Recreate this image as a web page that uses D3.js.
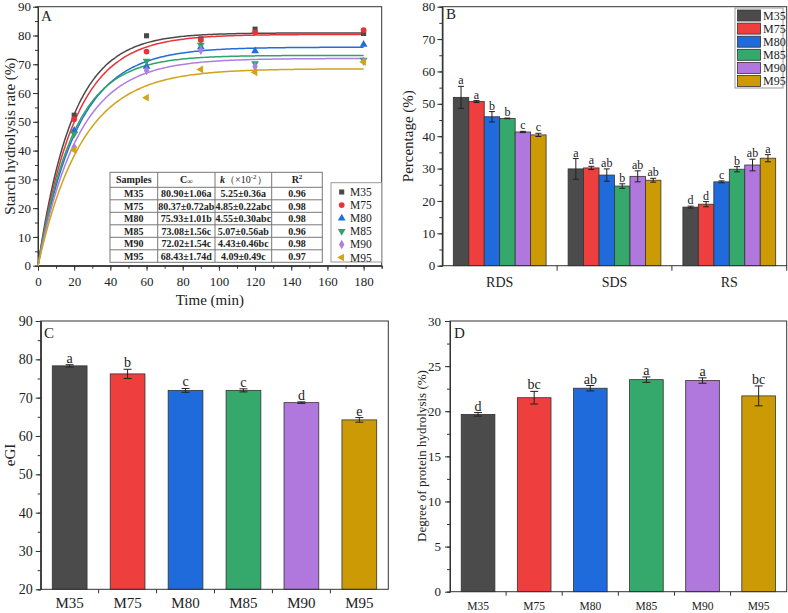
<!DOCTYPE html>
<html>
<head>
<meta charset="utf-8">
<script src="https://cdn.jsdelivr.net/npm/d3@7"></script>
<style>
  body { margin: 0; background: #fff; }
  text { font-family: "Liberation Serif", "Times New Roman", serif; fill: #222; }
</style>
</head>
<body>
<svg id="chart" width="788" height="613"></svg>
<script>
// ---- data ----
const samples = ['M35', 'M75', 'M80', 'M85', 'M90', 'M95'];
const barColors = ['#4b4b4b', '#ef3e3e', '#1f6bdb', '#34a96b', '#b077dc', '#cc9a05'];
const lineColors = ['#4a4a4a', '#e8333b', '#1f6fd6', '#2fa36a', '#b07ee0', '#d2a318'];

// A: starch hydrolysis (%) vs time (min)
const timePoints = [0, 20, 60, 90, 120, 180];
const hydM35 = [0, 52.3, 79.9, 78.8, 82.2, 80.7];
const hydM75 = [0, 50.9, 74.4, 78.4, 81.1, 81.9];
const hydM80 = [0, 47.0, 69.2, 76.0, 74.6, 76.9];
const hydM85 = [0, 45.8, 71.1, 76.7, 70.3, 71.5];
const hydM90 = [0, 41.2, 67.8, 74.9, 69.2, 71.0];
const hydM95 = [0, 40.2, 58.4, 68.2, 67.2, 70.8];
// first-order fit parameters from the inset table
const cInfVals = [80.90, 80.37, 75.93, 73.08, 72.02, 68.43];
const kVals = [5.25, 4.85, 4.55, 5.07, 4.43, 4.09]; // x10^-2
const cInfText = ['80.90±1.06a', '80.37±0.72ab', '75.93±1.01b', '73.08±1.56c', '72.02±1.54c', '68.43±1.74d'];
const kText = ['5.25±0.36a', '4.85±0.22abc', '4.55±0.30abc', '5.07±0.56ab', '4.43±0.46bc', '4.09±0.49c'];
const r2Text = ['0.96', '0.98', '0.98', '0.96', '0.98', '0.97'];

// B: starch fractions (%)
const fractions = ['RDS', 'SDS', 'RS'];
const rdsMean = [52.0, 50.7, 46.0, 45.5, 41.3, 40.4];
const rdsErr = [3.4, 0.3, 1.6, 0.1, 0.2, 0.5];
const rdsSig = ['a', 'a', 'b', 'b', 'c', 'c'];
const sdsMean = [29.9, 30.2, 28.0, 24.6, 27.6, 26.4];
const sdsErr = [3.2, 0.5, 1.9, 0.7, 1.7, 0.6];
const sdsSig = ['a', 'a', 'ab', 'b', 'ab', 'ab'];
const rsMean = [18.1, 19.0, 25.9, 29.8, 31.1, 33.2];
const rsErr = [0.3, 0.8, 0.3, 0.8, 1.8, 1.1];
const rsSig = ['d', 'd', 'c', 'b', 'ab', 'a'];

// C: eGI
const egiMean = [78.3, 76.2, 71.9, 71.9, 68.7, 64.2];
const egiErr = [0.3, 1.2, 0.5, 0.4, 0.2, 0.6];
const egiSig = ['a', 'b', 'c', 'c', 'd', 'e'];

// D: degree of protein hydrolysis (%)
const dhMean = [19.65, 21.5, 22.55, 23.5, 23.4, 21.7];
const dhErr = [0.2, 0.7, 0.3, 0.3, 0.3, 1.1];
const dhSig = ['d', 'bc', 'ab', 'a', 'a', 'bc'];

const svg = d3.select('#chart');
const axisColor = '#333';

function styleAxis(g, fontSize) {
    g.selectAll('path').attr('stroke', axisColor).attr('stroke-width', 1);
    g.selectAll('line').attr('stroke', axisColor).attr('stroke-width', 1);
    g.selectAll('text').attr('font-size', fontSize + 'px')
        .style('font-family', '"Liberation Serif", serif').attr('fill', '#222');
}

function frame(x0, x1, y0, y1) {
    svg.append('rect')
        .attr('x', x0).attr('y', y0)
        .attr('width', x1 - x0).attr('height', y1 - y0)
        .attr('fill', 'none').attr('stroke', axisColor).attr('stroke-width', 1);
}

function yAxisWithMinor(yScale, x0, major, minor, fontSize, pad) {
    const [lo, hi] = yScale.domain();
    svg.append('g')
        .attr('transform', `translate(${x0},0)`)
        .call(d3.axisLeft(yScale).tickValues(d3.range(lo, hi + 0.001, minor)).tickSize(3).tickFormat(''))
        .call(g => styleAxis(g, fontSize));
    svg.append('g')
        .attr('transform', `translate(${x0},0)`)
        .call(d3.axisLeft(yScale).tickValues(d3.range(lo, hi + 0.001, major)).tickSize(5).tickPadding(pad).tickSizeOuter(0))
        .call(g => styleAxis(g, fontSize));
}

function yTitle(text, x, yMid, size) {
    svg.append('text')
        .attr('transform', `translate(${x},${yMid}) rotate(-90)`)
        .attr('text-anchor', 'middle')
        .attr('font-size', size + 'px')
        .text(text);
}

function panelLetter(t, x, y) {
    svg.append('text').attr('x', x).attr('y', y).attr('font-size', '15px').text(t);
}

function errorBars(g, xs, ys, means, errs, bw, cap, sigs, sigSize) {
    means.forEach((m, i) => {
        const cx = xs(i) + bw / 2;
        g.append('line').attr('x1', cx).attr('x2', cx)
            .attr('y1', ys(m - errs[i])).attr('y2', ys(m + errs[i]))
            .attr('stroke', '#222').attr('stroke-width', 1);
        [m - errs[i], m + errs[i]].forEach(v => {
            g.append('line').attr('x1', cx - cap / 2).attr('x2', cx + cap / 2)
                .attr('y1', ys(v)).attr('y2', ys(v))
                .attr('stroke', '#222').attr('stroke-width', 1);
        });
        g.append('text').attr('x', cx).attr('y', ys(m + errs[i]) - 2)
            .attr('text-anchor', 'middle').attr('font-size', sigSize + 'px')
            .text(sigs[i]);
    });
}

// ================= Panel A =================
(function () {
    const L = 38, R = 381.7, T = 6.7, B = 265.7;
    const x = d3.scaleLinear().domain([0, 190]).range([L, R]);
    const y = d3.scaleLinear().domain([0, 90]).range([B, T]);
    const hyd = [hydM35, hydM75, hydM80, hydM85, hydM90, hydM95];

    frame(L, R, T, B);
    svg.append('g').attr('transform', `translate(0,${B})`)
        .call(d3.axisBottom(x).tickValues(d3.range(0, 191, 10)).tickSize(3).tickFormat(''))
        .call(g => styleAxis(g, 13));
    svg.append('g').attr('transform', `translate(0,${B})`)
        .call(d3.axisBottom(x).tickValues(d3.range(0, 181, 20)).tickSize(5).tickPadding(6).tickSizeOuter(0))
        .call(g => styleAxis(g, 13));
    yAxisWithMinor(y, L, 10, 5, 13, 2);

    // fitted curves C = Cinf (1 - exp(-k t))
    const curveT = d3.range(0, 180.5, 1);
    const line = d3.line().x(d => x(d[0])).y(d => y(d[1])).curve(d3.curveMonotoneX);
    samples.forEach((s, i) => {
        const pts = curveT.map(t => [t, cInfVals[i] * (1 - Math.exp(-kVals[i] / 100 * t))]);
        svg.append('path').attr('d', line(pts))
            .attr('fill', 'none').attr('stroke', lineColors[i]).attr('stroke-width', 1.5);
    });

    const symbols = [
        { type: d3.symbolSquare, rot: 0 },
        { type: d3.symbolCircle, rot: 0 },
        { type: d3.symbolTriangle, rot: 0 },
        { type: d3.symbolTriangle, rot: 180 },
        { type: d3.symbolDiamond, rot: 0 },
        { type: d3.symbolTriangle, rot: -90 }
    ];
    const sym = i => d3.symbol().type(symbols[i].type).size(26)();
    samples.forEach((s, i) => {
        svg.append('g').selectAll('path')
            .data(timePoints.map((t, j) => [t, hyd[i][j]]).filter(d => d[0] > 0))
            .join('path')
            .attr('d', sym(i))
            .attr('transform', d => `translate(${x(d[0])},${y(d[1])}) rotate(${symbols[i].rot})`)
            .attr('fill', lineColors[i]);
    });

    // inset table
    const colX = [110, 157.7, 215, 271.7, 322.3];
    const rowY = [172.3, 187.3].concat(d3.range(1, 7).map(i => 187.3 + i * 12.5));
    const tg = svg.append('g');
    tg.append('rect').attr('x', colX[0]).attr('y', rowY[0])
        .attr('width', colX[4] - colX[0]).attr('height', rowY[7] - rowY[0])
        .attr('fill', '#fff').attr('stroke', '#777').attr('stroke-width', 1);
    colX.slice(1, 4).forEach(cx => tg.append('line').attr('x1', cx).attr('x2', cx)
        .attr('y1', rowY[0]).attr('y2', rowY[7]).attr('stroke', '#777'));
    rowY.slice(1, 7).forEach(ry => tg.append('line').attr('x1', colX[0]).attr('x2', colX[4])
        .attr('y1', ry).attr('y2', ry).attr('stroke', '#777'));
    const mid = j => (colX[j] + colX[j + 1]) / 2;
    const hdrY = (rowY[0] + rowY[1]) / 2 + 3.5;
    const cell = (cx, cy, txt) => tg.append('text').attr('x', cx).attr('y', cy)
        .attr('text-anchor', 'middle').attr('font-size', '10px').attr('font-weight', 'bold').text(txt);
    cell(mid(0), hdrY, 'Samples');
    const cH = cell(mid(1), hdrY, 'C');
    cH.append('tspan').attr('font-size', '8px').attr('dy', 1).text('∞');
    const kH = tg.append('text').attr('x', mid(2)).attr('y', hdrY).attr('text-anchor', 'middle')
        .attr('font-size', '10px').attr('font-weight', 'bold');
    kH.append('tspan').attr('font-style', 'italic').text('k');
    kH.append('tspan').attr('font-weight', 'normal').text('（×10');
    kH.append('tspan').attr('font-size', '7px').attr('dy', -4).attr('font-weight', 'normal').text('-2');
    kH.append('tspan').attr('dy', 4).attr('font-weight', 'normal').text('）');
    const rH = cell(mid(3), hdrY, 'R');
    rH.append('tspan').attr('font-size', '7px').attr('dy', -4).text('2');
    samples.forEach((s, i) => {
        const cy = (rowY[i + 1] + rowY[i + 2]) / 2 + 3.5;
        cell(mid(0), cy, s);
        cell(mid(1), cy, cInfText[i]);
        cell(mid(2), cy, kText[i]);
        cell(mid(3), cy, r2Text[i]);
    });

    // legend
    const lg = svg.append('g');
    lg.append('rect').attr('x', 331).attr('y', 182.7).attr('width', R - 331).attr('height', 262 - 182.7)
        .attr('fill', '#fff').attr('stroke', '#999').attr('stroke-width', 1);
    samples.forEach((s, i) => {
        const ly = 192 + i * 13.1;
        lg.append('path').attr('d', sym(i))
            .attr('transform', `translate(341.7,${ly}) rotate(${symbols[i].rot})`)
            .attr('fill', lineColors[i]);
        lg.append('text').attr('x', 350).attr('y', ly + 4).attr('font-size', '11.5px').text(s);
    });

    panelLetter('A', 41, 21);
    svg.append('text').attr('x', (L + R) / 2).attr('y', 305).attr('text-anchor', 'middle')
        .attr('font-size', '15px').text('Time (min)');
    yTitle('Starch hydrolysis rate (%)', 15, (T + B) / 2, 15);
})();

// ================= Panel B =================
(function () {
    const L = 442.3, R = 786.7, T = 6.7, B = 265.7;
    const x0 = d3.scaleBand().domain(fractions).range([L, R]).padding(0);
    const x1 = d3.scaleBand().domain(d3.range(6)).range([11, x0.bandwidth() - 11]).padding(0);
    const y = d3.scaleLinear().domain([0, 80]).range([B, T]);
    const means = [rdsMean, sdsMean, rsMean];
    const errs = [rdsErr, sdsErr, rsErr];
    const sigs = [rdsSig, sdsSig, rsSig];

    fractions.forEach((f, fi) => {
        const g = svg.append('g').attr('transform', `translate(${x0(f)},0)`);
        g.selectAll('rect').data(means[fi]).join('rect')
            .attr('x', (d, i) => x1(i)).attr('y', d => y(d))
            .attr('width', x1.bandwidth()).attr('height', d => B - y(d))
            .attr('fill', (d, i) => barColors[i]).attr('stroke', '#333').attr('stroke-width', 0.8);
        errorBars(g, i => x1(i), y, means[fi], errs[fi], x1.bandwidth(), 6, sigs[fi], 12);
    });

    frame(L, R, T, B);
    yAxisWithMinor(y, L, 10, 5, 13, 2);
    // ticks at group boundaries, labels at group centres
    const bounds = fractions.slice(1).map(f => x0(f)).concat([R]);
    bounds.forEach(bx => svg.append('line').attr('x1', bx).attr('x2', bx)
        .attr('y1', B).attr('y2', B + 5).attr('stroke', axisColor));
    fractions.forEach(f => svg.append('text')
        .attr('x', x0(f) + x0.bandwidth() / 2).attr('y', B + 21)
        .attr('text-anchor', 'middle').attr('font-size', '14px').text(f));

    // legend
    const lg = svg.append('g');
    lg.append('rect').attr('x', 735).attr('y', 8).attr('width', 48).attr('height', 80)
        .attr('fill', '#fff').attr('stroke', '#999').attr('stroke-width', 1);
    samples.forEach((s, i) => {
        const ry = 10 + i * 13.1;
        lg.append('rect').attr('x', 737.5).attr('y', ry).attr('width', 23).attr('height', 11)
            .attr('fill', barColors[i]).attr('stroke', '#333').attr('stroke-width', 0.8);
        lg.append('text').attr('x', 763).attr('y', ry + 9.5).attr('font-size', '12px').text(s);
    });

    panelLetter('B', 446, 19);
    yTitle('Percentage (%)', 413, (T + B) / 2, 15);
})();

// ================= Panels C & D =================
function simpleBars(opts) {
    const { L, R, T, B, domain, major, minor, means, errs, sigs, tickFont, xFont, labelGap, yPad } = opts;
    const x = d3.scaleBand().domain(d3.range(6)).range([L, R]).paddingInner(0.4).paddingOuter(0.2);
    const y = d3.scaleLinear().domain(domain).range([B, T]);
    const g = svg.append('g');
    g.selectAll('rect').data(means).join('rect')
        .attr('x', (d, i) => x(i)).attr('y', d => y(d))
        .attr('width', x.bandwidth()).attr('height', d => B - y(d))
        .attr('fill', (d, i) => barColors[i]).attr('stroke', '#333').attr('stroke-width', 0.8);
    errorBars(g, i => x(i), y, means, errs, x.bandwidth(), 8, sigs, 14);

    frame(L, R, T, B);
    yAxisWithMinor(y, L, major, minor, tickFont, yPad);
    const step = x.step();
    d3.range(1, 6).forEach(i => {
        const bx = x(i) - (step - x.bandwidth()) / 2;
        svg.append('line').attr('x1', bx).attr('x2', bx).attr('y1', B).attr('y2', B + 4).attr('stroke', axisColor);
    });
    samples.forEach((s, i) => svg.append('text')
        .attr('x', x(i) + x.bandwidth() / 2).attr('y', B + labelGap)
        .attr('text-anchor', 'middle').attr('font-size', xFont + 'px').text(s));
}

simpleBars({
    L: 40.7, R: 388.3, T: 321, B: 589.3, domain: [20, 90], major: 10, minor: 5,
    means: egiMean, errs: egiErr, sigs: egiSig, tickFont: 14, xFont: 15, labelGap: 19, yPad: 3
});
panelLetter('C', 44, 338);
yTitle('eGI', 15, 455, 15);

simpleBars({
    L: 450, R: 786.7, T: 321, B: 591.7, domain: [0, 30], major: 5, minor: 2.5,
    means: dhMean, errs: dhErr, sigs: dhSig, tickFont: 13, xFont: 11.5, labelGap: 18, yPad: 4
});
panelLetter('D', 454, 338);
yTitle('Degree of protein hydrolysis (%)', 426, 456, 13);
</script>
</body>
</html>
